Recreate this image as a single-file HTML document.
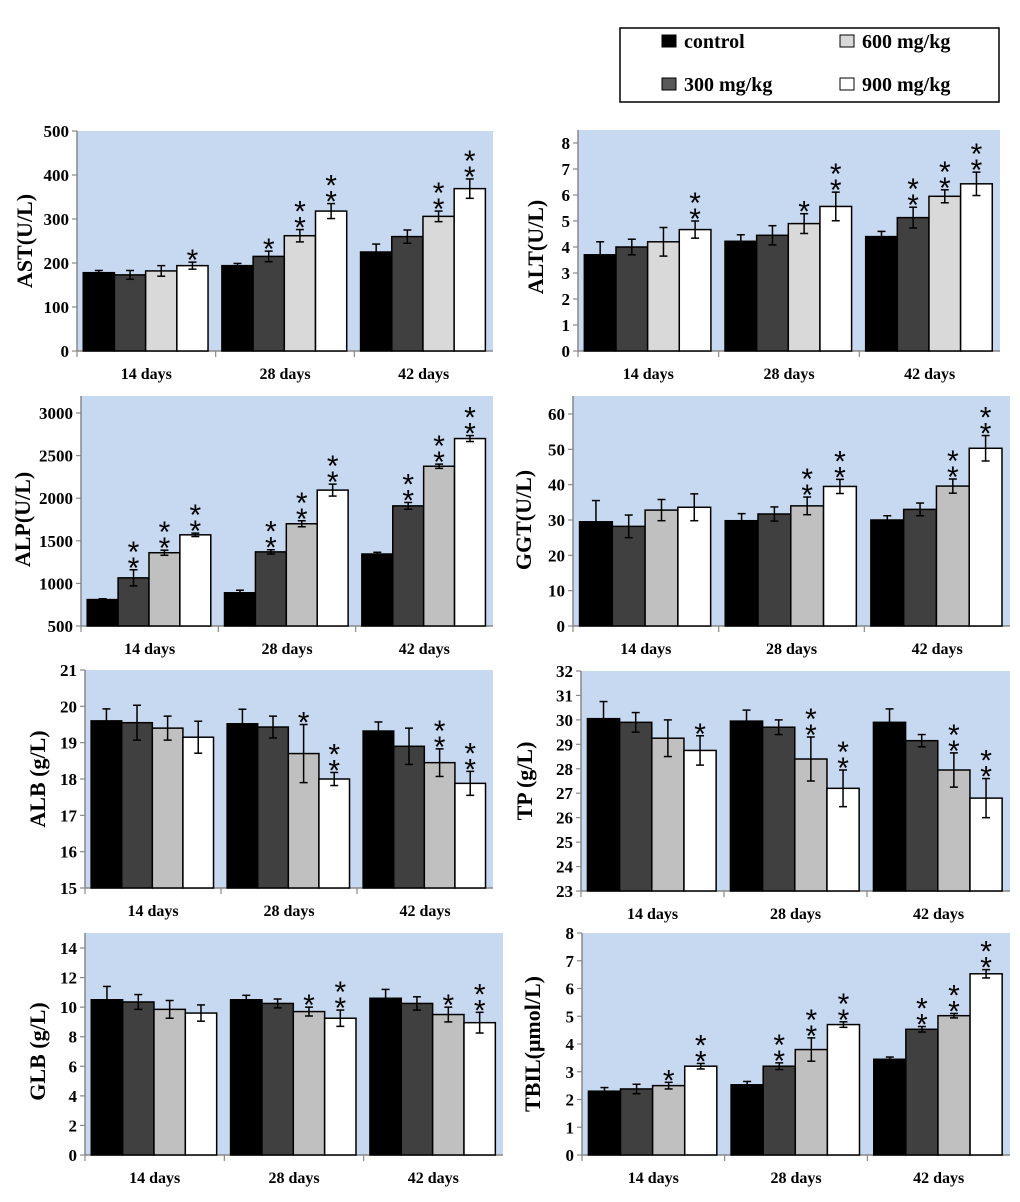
<!DOCTYPE html>
<html><head><meta charset="utf-8">
<style>
html,body{margin:0;padding:0;background:#fff;}
svg text{font-family:"Liberation Serif",serif;font-weight:bold;fill:#000;}
</style></head>
<body>
<svg id="fig" width="1020" height="1197" viewBox="0 0 1020 1197" xmlns="http://www.w3.org/2000/svg">
<g>
<rect x="620" y="28" width="379" height="74" fill="#fff" stroke="#000" stroke-width="1.5"/>
<g><rect x="662" y="35" width="14" height="12" fill="#000" stroke="#000"/><text x="684" y="48" font-size="20">control</text></g>
<g><rect x="840" y="35" width="14" height="12" fill="#d9d9d9" stroke="#000"/><text x="862" y="48" font-size="20">600 mg/kg</text></g>
<g><rect x="662" y="78" width="14" height="12" fill="#595959" stroke="#000"/><text x="684" y="91" font-size="20">300 mg/kg</text></g>
<g><rect x="840" y="78" width="14" height="12" fill="#fff" stroke="#000"/><text x="862" y="91" font-size="20">900 mg/kg</text></g>
</g>
</svg>
<script>
const categories = ["14 days","28 days","42 days"];
const astValues = [[178,173,182,194],[194,215,262,318],[225,260,306,369]];
const astErr = [[5,10,12,8],[5,12,14,17],[18,15,12,22]];
const astStars = [[0,0,0,1],[0,1,2,2],[0,0,2,2]];
const astTicks = [0,100,200,300,400,500];
const altValues = [[3.7,4.0,4.2,4.67],[4.22,4.45,4.9,5.56],[4.4,5.13,5.95,6.43]];
const altErr = [[0.5,0.3,0.55,0.33],[0.25,0.37,0.38,0.55],[0.2,0.4,0.25,0.45]];
const altStars = [[0,0,0,2],[0,0,1,2],[0,2,2,2]];
const altTicks = [0,1,2,3,4,5,6,7,8];
const alpValues = [[810,1065,1360,1570],[890,1370,1700,2095],[1345,1910,2375,2700]];
const alpErr = [[10,95,30,20],[30,25,35,70],[20,40,25,35]];
const alpStars = [[0,2,2,2],[0,2,2,2],[0,2,2,2]];
const alpTicks = [500,1000,1500,2000,2500,3000];
const ggtValues = [[29.5,28.2,32.8,33.6],[29.8,31.7,34,39.5],[30,33,39.6,50.3]];
const ggtErr = [[6,3.2,3,3.8],[2,2,2.5,2],[1.2,1.8,2,3.6]];
const ggtStars = [[0,0,0,0],[0,0,2,2],[0,0,2,2]];
const ggtTicks = [0,10,20,30,40,50,60];
const albValues = [[19.6,19.55,19.4,19.15],[19.52,19.43,18.7,18.0],[19.32,18.9,18.45,17.88]];
const albErr = [[0.33,0.48,0.33,0.44],[0.4,0.3,0.8,0.18],[0.25,0.5,0.38,0.33]];
const albStars = [[0,0,0,0],[0,0,1,2],[0,0,2,2]];
const albTicks = [15,16,17,18,19,20,21];
const tpValues = [[30.05,29.9,29.25,28.75],[29.95,29.7,28.4,27.2],[29.9,29.15,27.95,26.8]];
const tpErr = [[0.7,0.4,0.75,0.6],[0.45,0.3,0.9,0.75],[0.55,0.25,0.7,0.8]];
const tpStars = [[0,0,0,1],[0,0,2,2],[0,0,2,2]];
const tpTicks = [23,24,25,26,27,28,29,30,31,32];
const glbValues = [[10.5,10.35,9.85,9.6],[10.5,10.25,9.7,9.25],[10.6,10.25,9.5,8.95]];
const glbErr = [[0.9,0.5,0.6,0.55],[0.3,0.3,0.3,0.55],[0.6,0.45,0.5,0.7]];
const glbStars = [[0,0,0,0],[0,0,1,2],[0,0,1,2]];
const glbTicks = [0,2,4,6,8,10,12,14];
const tbilValues = [[2.3,2.38,2.5,3.2],[2.53,3.2,3.8,4.7],[3.45,4.53,5.02,6.53]];
const tbilErr = [[0.13,0.17,0.12,0.1],[0.12,0.12,0.42,0.1],[0.08,0.1,0.08,0.15]];
const tbilStars = [[0,0,1,2],[0,2,2,2],[0,2,2,2]];
const tbilTicks = [0,1,2,3,4,5,6,7,8];

const NS="http://www.w3.org/2000/svg";
const svg=document.getElementById('fig');
function mk(tag,attrs,parent){const e=document.createElementNS(NS,tag);for(const k in attrs)e.setAttribute(k,attrs[k]);parent.appendChild(e);return e;}

function panel(name,label,values,err,stars,ticks,L,R,yTop,yBot,bgTop,labX,c600,c300){
  const g=mk('g',{},svg);
  
  
  const vmin=ticks[0],vmax=ticks[ticks.length-1];
  const y=v=>yBot-(v-vmin)/(vmax-vmin)*(yBot-yTop);
  const bg=mk('rect',{x:L,y:bgTop,width:R-L,height:yBot-bgTop,fill:'#c6d9f0'},g);
  
  
  mk('line',{x1:L,y1:bgTop,x2:L,y2:yBot,stroke:'#888','stroke-width':1.5},g);
  mk('line',{x1:L,y1:yBot,x2:R,y2:yBot,stroke:'#888','stroke-width':1.5},g);
  ticks.forEach(t=>{
    mk('line',{x1:L-5,y1:y(t),x2:L,y2:y(t),stroke:'#888','stroke-width':1.2},g);
    const tx=mk('text',{x:L-8,y:y(t)+6,'font-size':17,'text-anchor':'end'},g);
    tx.textContent=t;
    
    
  });
  const yl=mk('text',{x:labX,y:(yTop+yBot)/2,'font-size':22,'text-anchor':'middle',transform:`rotate(-90 ${labX} ${(yTop+yBot)/2})`},g);
  yl.textContent=label;
  
  
  const gw=(R-L)/3;
  const colors=['#000',c300,c600,'#fff'];
  const seriesNames=['control','300','600','900'];
  for(let i=0;i<3;i++){
    const gx=L+i*gw;
    mk('line',{x1:gx,y1:yBot,x2:gx,y2:yBot+6,stroke:'#888','stroke-width':1.2},g);
    const cl=mk('text',{x:gx+gw/2,y:yBot+28,'font-size':16,'text-anchor':'middle'},g);
    cl.textContent=categories[i];
    
    
    const bw=gw*0.225, x0=gx+gw*0.045;
    for(let j=0;j<4;j++){
      const v=values[i][j],e=err[i][j];
      const bx=x0+j*bw, cx=bx+bw/2;
      const b=mk('rect',{x:bx,y:y(v),width:bw,height:yBot-y(v),fill:colors[j],stroke:'#000','stroke-width':1.5},g);
      
      
      const et=y(v+e),eb=y(v-e);
      mk('line',{x1:cx,y1:et,x2:cx,y2:eb,stroke:'#000','stroke-width':1.5},g);
      mk('line',{x1:cx-4,y1:et,x2:cx+4,y2:et,stroke:'#000','stroke-width':1.5},g);
      mk('line',{x1:cx-4,y1:eb,x2:cx+4,y2:eb,stroke:'#000','stroke-width':1.5},g);
      for(let s=0;s<stars[i][j];s++){
        const st=mk('text',{x:cx,y:et+8-s*16,'font-size':30,'text-anchor':'middle'},g);
        st.setAttribute('style','font-family:"Liberation Sans",sans-serif;font-weight:normal');
        st.textContent='*';
        
        
      }
    }
  }
}
panel('ast','AST(U/L)',astValues,astErr,astStars,astTicks,77,493,131,351,131,32,'#d9d9d9','#404040');
panel('alt','ALT(U/L)',altValues,altErr,altStars,altTicks,578,1000,143,351,130,543,'#d9d9d9','#404040');
panel('alp','ALP(U/L)',alpValues,alpErr,alpStars,alpTicks,81,493,413,626,396,30,'#c0c0c0','#404040');
panel('ggt','GGT(U/L)',ggtValues,ggtErr,ggtStars,ggtTicks,573,1010,414,626,396,531,'#c0c0c0','#404040');
panel('alb','ALB (g/L)',albValues,albErr,albStars,albTicks,85,493,670,888,670,45,'#c0c0c0','#404040');
panel('tp','TP (g/L)',tpValues,tpErr,tpStars,tpTicks,581,1010,671,891,671,532,'#c0c0c0','#404040');
panel('glb','GLB (g/L)',glbValues,glbErr,glbStars,glbTicks,85,503,948,1155,933,45,'#c0c0c0','#404040');
panel('tbil','TBIL(μmol/L)',tbilValues,tbilErr,tbilStars,tbilTicks,582,1010,933,1155,933,540,'#c0c0c0','#404040');
</script>
</body></html>
